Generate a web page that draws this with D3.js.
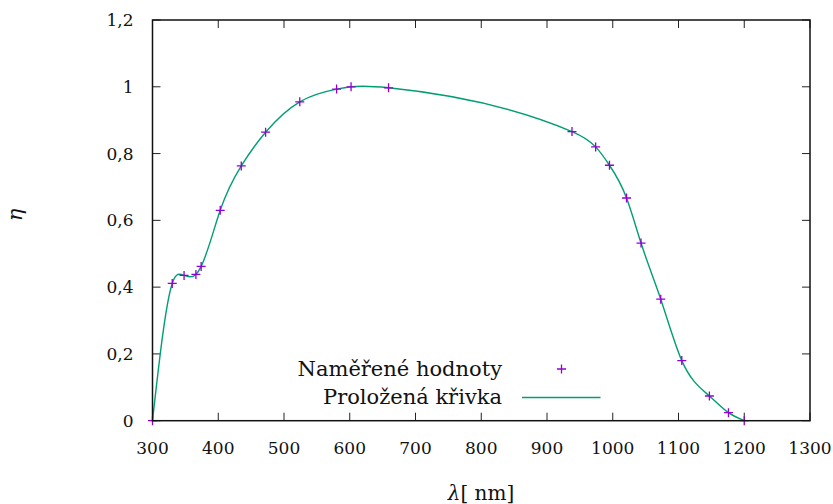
<!DOCTYPE html>
<html>
<head>
<meta charset="utf-8">
<script src="https://cdn.jsdelivr.net/npm/d3@7"></script>
<style>
  body { margin: 0; background: #fff; }
  svg text { font-family: "DejaVu Serif"; fill: #111; }
</style>
</head>
<body>
<script>
    // namerene body (vlnova delka v nm, ucinnost)
    const wavelengths = [300, 330, 348, 366, 374, 403, 435, 472, 524, 580, 602, 659,
                         938, 974, 995, 1021, 1043, 1073, 1105, 1147, 1176, 1200];
    const efficiency = [0, 0.411, 0.435, 0.438, 0.462, 0.63, 0.763, 0.864, 0.955, 0.993, 1.0, 0.997,
                        0.866, 0.82, 0.765, 0.667, 0.532, 0.364, 0.18, 0.074, 0.024, 0];

    const xTicks = [300, 400, 500, 600, 700, 800, 900, 1000, 1100, 1200, 1300];
    const yTicks = [0, 0.2, 0.4, 0.6, 0.8, 1.0, 1.2];
    const legendLabels = ["Naměřené hodnoty", "Proložená křivka"];

    const width = 833, height = 504;
    const margin = {left: 152.5, right: 23, top: 20, bottom: 83.3};

    // prirozeny kubicky splajn v x (jako csplines v gnuplotu), vykresleny Bezierovymi useky
    function curveNaturalX(context) {
        let xs = [], ys = [];
        return {
            areaStart() {}, areaEnd() {},
            lineStart() { xs = []; ys = []; },
            point(px, py) { xs.push(+px); ys.push(+py); },
            lineEnd() {
                const n = xs.length;
                if (n < 2) return;
                const h = [];
                for (let i = 0; i < n - 1; i++) h.push(xs[i + 1] - xs[i]);
                // tridiagonalni soustava pro druhe derivace
                const M = new Array(n).fill(0);
                const a = [], b = [], c = [], r = [];
                for (let i = 1; i < n - 1; i++) {
                    a.push(h[i - 1]);
                    b.push(2 * (h[i - 1] + h[i]));
                    c.push(h[i]);
                    r.push(6 * ((ys[i + 1] - ys[i]) / h[i] - (ys[i] - ys[i - 1]) / h[i - 1]));
                }
                const m = b.length;
                for (let i = 1; i < m; i++) {
                    const w = a[i] / b[i - 1];
                    b[i] -= w * c[i - 1];
                    r[i] -= w * r[i - 1];
                }
                if (m > 0) {
                    M[m] = r[m - 1] / b[m - 1];
                    for (let i = m - 2; i >= 0; i--) M[i + 1] = (r[i] - c[i] * M[i + 2]) / b[i];
                }
                context.moveTo(xs[0], ys[0]);
                for (let i = 0; i < n - 1; i++) {
                    const s = (ys[i + 1] - ys[i]) / h[i];
                    const d0 = s - h[i] * (2 * M[i] + M[i + 1]) / 6;
                    const d1 = s + h[i] * (M[i] + 2 * M[i + 1]) / 6;
                    context.bezierCurveTo(
                        xs[i] + h[i] / 3, ys[i] + d0 * h[i] / 3,
                        xs[i + 1] - h[i] / 3, ys[i + 1] - d1 * h[i] / 3,
                        xs[i + 1], ys[i + 1]);
                }
            }
        };
    }

    const svg = d3.select('body')
      .append('svg')
      .attr('width', width)
      .attr('height', height);

    const x = d3.scaleLinear().domain([300, 1300]).range([margin.left, width - margin.right]);
    const y = d3.scaleLinear().domain([0, 1.2]).range([height - margin.bottom, margin.top]);

    const fmt = d => d3.format(".1~f")(d).replace('.', ',');

    const data = wavelengths.map((w, i) => ({w: w, e: efficiency[i]}));

    // osy s tiky dovnitr (i zrcadlene)
    const tickLen = 8;
    const axes = svg.append('g').attr('stroke', '#222').attr('stroke-width', 1);
    xTicks.forEach(t => {
        axes.append('line').attr('x1', x(t)).attr('x2', x(t))
            .attr('y1', y(0)).attr('y2', y(0) - tickLen);
        axes.append('line').attr('x1', x(t)).attr('x2', x(t))
            .attr('y1', y(1.2)).attr('y2', y(1.2) + tickLen);
    });
    yTicks.forEach(t => {
        axes.append('line').attr('x1', x(300)).attr('x2', x(300) + tickLen)
            .attr('y1', y(t)).attr('y2', y(t));
        axes.append('line').attr('x1', x(1300)).attr('x2', x(1300) - tickLen)
            .attr('y1', y(t)).attr('y2', y(t));
    });

    svg.selectAll('.xlab')
      .data(xTicks)
      .enter().append('text')
      .attr('class', 'xlab')
      .attr('x', d => x(d))
      .attr('y', y(0) + 33)
      .attr('text-anchor', 'middle')
      .style('font-size', '17px')
      .text(d => d);

    svg.selectAll('.ylab')
      .data(yTicks)
      .enter().append('text')
      .attr('class', 'ylab')
      .attr('x', margin.left - 19)
      .attr('y', d => y(d) + 6)
      .attr('text-anchor', 'end')
      .style('font-size', '17px')
      .text(d => fmt(d));

    // popisky os
    svg.append('text')
      .attr('x', 481)
      .attr('y', 500)
      .attr('text-anchor', 'middle')
      .style('font-size', '20px')
      .html('<tspan font-style="italic">λ</tspan>[ nm]');

    svg.append('text')
      .attr('transform', 'translate(22, 215) rotate(-90)')
      .attr('text-anchor', 'middle')
      .style('font-size', '21px')
      .style('font-style', 'italic')
      .text('η');

    // prolozena krivka
    const line = d3.line()
      .x(d => x(d.w))
      .y(d => y(d.e))
      .curve(curveNaturalX);

    svg.append('path')
      .datum(data)
      .attr('fill', 'none')
      .attr('stroke', '#009e73')
      .attr('stroke-width', 1.4)
      .attr('d', line);

    // body
    const cross = (g, cx, cy) => {
        g.append('path')
          .attr('d', `M${cx - 4.5},${cy}H${cx + 4.5}M${cx},${cy - 4.5}V${cy + 4.5}`)
          .attr('stroke', '#9400d3')
          .attr('stroke-width', 1.3)
          .attr('fill', 'none');
    };
    const pts = svg.append('g');
    data.forEach(d => cross(pts, x(d.w), y(d.e)));

    // okraj
    svg.append('rect')
      .attr('x', x(300)).attr('y', y(1.2))
      .attr('width', x(1300) - x(300)).attr('height', y(0) - y(1.2))
      .attr('fill', 'none')
      .attr('stroke', '#111')
      .attr('stroke-width', 1.5);

    // legenda
    svg.append('text')
      .attr('x', 502).attr('y', 376)
      .attr('text-anchor', 'end')
      .style('font-size', '21px')
      .text(legendLabels[0]);
    cross(svg, 561.5, 369);

    svg.append('text')
      .attr('x', 502).attr('y', 404)
      .attr('text-anchor', 'end')
      .style('font-size', '21px')
      .text(legendLabels[1]);
    svg.append('line')
      .attr('x1', 522).attr('x2', 600.5)
      .attr('y1', 397.5).attr('y2', 397.5)
      .attr('stroke', '#009e73')
      .attr('stroke-width', 1.4);
</script>
</body>
</html>
